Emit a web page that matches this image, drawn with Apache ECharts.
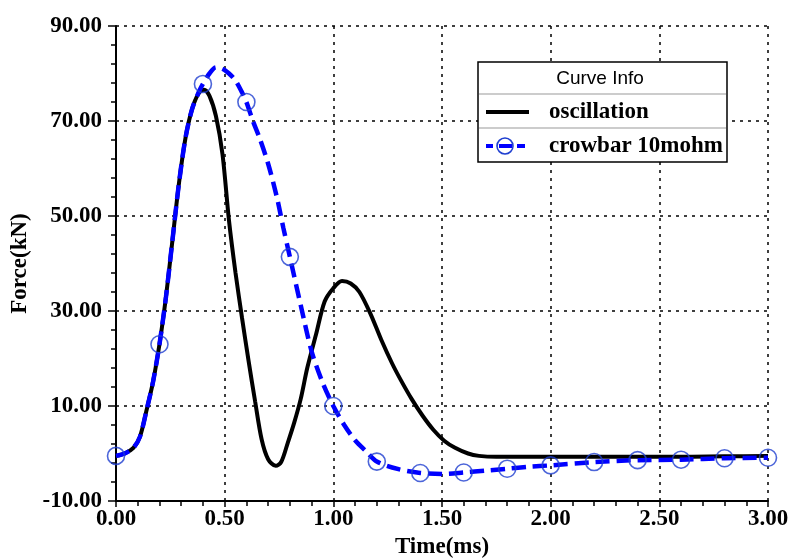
<!DOCTYPE html>
<html><head><meta charset="utf-8">
<script src="https://cdn.jsdelivr.net/npm/echarts@6/dist/echarts.min.js"></script>
<style>html,body{margin:0;padding:0;background:#fff}#c{width:792px;height:559px}</style>
</head><body><div id="c"></div><script>
// ---- data (time in ms, force in kN) ----
const oscTime  = [0, 0.04, 0.08, 0.11, 0.14, 0.17, 0.2, 0.23, 0.26, 0.29, 0.32, 0.35, 0.38, 0.405, 0.43, 0.46, 0.49, 0.52, 0.55, 0.58, 0.61, 0.64, 0.67, 0.70, 0.735, 0.76, 0.79, 0.82, 0.85, 0.88, 0.92, 0.96, 1.0, 1.04, 1.08, 1.12, 1.17, 1.22, 1.27, 1.31, 1.36, 1.41, 1.46, 1.51, 1.56, 1.62, 1.67, 1.75, 2.0, 2.5, 2.8, 3.0];
const oscForce = [-0.5, 0, 1.2, 3.5, 9, 15, 23, 33, 45, 57, 66.5, 72.5, 75.8, 76.6, 75.3, 71, 63, 49, 38, 28.5, 19.5, 11, 3, -1.2, -2.6, -1.8, 2.2, 6.5, 11.5, 18, 25, 32, 34.8, 36.3, 35.8, 34, 29.5, 24, 19, 15.5, 11.5, 8, 5, 2.7, 1.2, 0, -0.5, -0.7, -0.7, -0.7, -0.6, -0.5];

const crowTime  = [0, 0.04, 0.08, 0.11, 0.14, 0.17, 0.2, 0.23, 0.26, 0.29, 0.32, 0.35, 0.38, 0.4, 0.43, 0.46, 0.49, 0.52, 0.55, 0.58, 0.6, 0.63, 0.66, 0.7, 0.74, 0.77, 0.8, 0.85, 0.9, 0.95, 1.0, 1.05, 1.1, 1.15, 1.2, 1.3, 1.4, 1.5, 1.6, 1.7, 1.8, 1.9, 2.0, 2.2, 2.4, 2.6, 2.8, 3.0];
const crowForce = [-0.5, 0, 1.2, 3.5, 9, 15, 23, 33, 45, 57, 66.5, 72.5, 76, 77.8, 80, 81.3, 81, 80, 78.5, 76, 74, 70, 66.5, 61, 54, 47.5, 41.4, 31.2, 21.5, 15, 10, 6, 2.8, 0.5, -1.7, -3.3, -4.1, -4.3, -4.0, -3.6, -3.2, -2.8, -2.5, -1.8, -1.4, -1.3, -1.0, -0.9];
const crowMarkerTimes = [0, 0.2, 0.4, 0.6, 0.8, 1.0, 1.2, 1.4, 1.6, 1.8, 2.0, 2.2, 2.4, 2.6, 2.8, 3.0];

const xTicks = [0, 0.5, 1.0, 1.5, 2.0, 2.5, 3.0];
const yTicks = [-10, 10, 30, 50, 70, 90];

const seriesNames = ['oscillation', 'crowbar 10mohm'];
const legendTitle = 'Curve Info';
const xName = 'Time(ms)';
const yName = 'Force(kN)';

// ---- build ----
const zip = (a, b) => a.map((t, i) => [t, b[i]]);
const oscData = zip(oscTime, oscForce);
const crowData = zip(crowTime, crowForce);
const markerData = crowMarkerTimes.map(t => {
  const i = crowTime.findIndex(v => Math.abs(v - t) < 1e-9);
  return [t, crowForce[i]];
});

const serif = '"Liberation Serif", "Times New Roman", serif';
const labelFont = {fontFamily: serif, fontWeight: 'bold', fontSize: 23, color: '#000'};
const gridLine = {show: true, lineStyle: {color: '#000', type: [3, 5], width: 1.5}};

const chart = echarts.init(document.getElementById('c'), null, {renderer: 'canvas'});
chart.setOption({
  animation: false,
  backgroundColor: '#fff',
  grid: {left: 116, right: 24, top: 26, bottom: 58, outerBoundsMode: 'none', containLabel: false},
  xAxis: {
    type: 'value', min: xTicks[0], max: xTicks[xTicks.length - 1], interval: xTicks[1] - xTicks[0],
    axisLine: {onZero: false, lineStyle: {color: '#000', width: 2}},
    axisTick: {length: 6, lineStyle: {color: '#000', width: 1.5}},
    minorTick: {show: true, splitNumber: 5, length: 5, lineStyle: {color: '#000', width: 1.5}},
    splitLine: gridLine,
    axisLabel: Object.assign({margin: 7, showMinLabel: true, showMaxLabel: true, formatter: v => v.toFixed(2)}, labelFont),
    name: xName, nameLocation: 'middle', nameGap: 32,
    nameTextStyle: labelFont
  },
  yAxis: {
    type: 'value', min: yTicks[0], max: yTicks[yTicks.length - 1], interval: yTicks[1] - yTicks[0],
    axisLine: {onZero: false, lineStyle: {color: '#000', width: 2}},
    axisTick: {length: 8, lineStyle: {color: '#000', width: 1.5}},
    minorTick: {show: true, splitNumber: 5, length: 5, lineStyle: {color: '#000', width: 1.5}},
    splitLine: gridLine,
    axisLabel: Object.assign({margin: 14, showMinLabel: true, showMaxLabel: true, formatter: v => v.toFixed(2)}, labelFont),
    name: yName, nameLocation: 'middle', nameGap: 76,
    nameTextStyle: labelFont
  },
  series: [
    {name: seriesNames[0], type: 'line', data: oscData, smooth: 0.3, showSymbol: false, symbol: 'none',
     lineStyle: {color: '#000', width: 4}, z: 3},
    {name: seriesNames[1], type: 'line', data: crowData, smooth: 0.3, showSymbol: false, symbol: 'none',
     lineStyle: {color: '#0000ff', width: 4.5, type: [14, 7]}, z: 4},
    {name: seriesNames[1] + ' markers', type: 'scatter', data: markerData, symbol: 'circle', symbolSize: 17,
     itemStyle: {color: 'rgba(0,0,0,0)', borderColor: '#1f3fd0', borderWidth: 1.6}, clip: false, z: 5}
  ],
  graphic: [
    {type: 'rect', z: 100, shape: {x: 478, y: 62, width: 249, height: 100}, style: {fill: '#fff', stroke: '#000', lineWidth: 1.5}},
    {type: 'line', z: 101, shape: {x1: 479, y1: 94, x2: 726, y2: 94}, style: {stroke: '#bbbbbb', lineWidth: 1.5}},
    {type: 'line', z: 101, shape: {x1: 479, y1: 128, x2: 726, y2: 128}, style: {stroke: '#bbbbbb', lineWidth: 1.5}},
    {type: 'text', z: 101, style: {x: 600, y: 79, text: legendTitle, align: 'center', verticalAlign: 'middle', font: '19px "Liberation Sans", Arial, sans-serif', fill: '#000'}},
    {type: 'line', z: 101, shape: {x1: 486, y1: 112, x2: 529, y2: 112}, style: {stroke: '#000', lineWidth: 4}},
    {type: 'text', z: 101, style: {x: 549, y: 112, text: seriesNames[0], align: 'left', verticalAlign: 'middle', font: 'bold 23px ' + serif, fill: '#000'}},
    {type: 'line', z: 101, shape: {x1: 486, y1: 146, x2: 493, y2: 146}, style: {stroke: '#0000ff', lineWidth: 4}},
    {type: 'line', z: 101, shape: {x1: 499, y1: 146, x2: 512, y2: 146}, style: {stroke: '#0000ff', lineWidth: 4}},
    {type: 'line', z: 101, shape: {x1: 517, y1: 146, x2: 525, y2: 146}, style: {stroke: '#0000ff', lineWidth: 4}},
    {type: 'circle', z: 102, shape: {cx: 505, cy: 146, r: 8}, style: {fill: 'none', stroke: '#1f3fd0', lineWidth: 1.6}},
    {type: 'text', z: 101, style: {x: 549, y: 146, text: seriesNames[1], align: 'left', verticalAlign: 'middle', font: 'bold 23px ' + serif, fill: '#000'}}
  ]
});
</script></body></html>
